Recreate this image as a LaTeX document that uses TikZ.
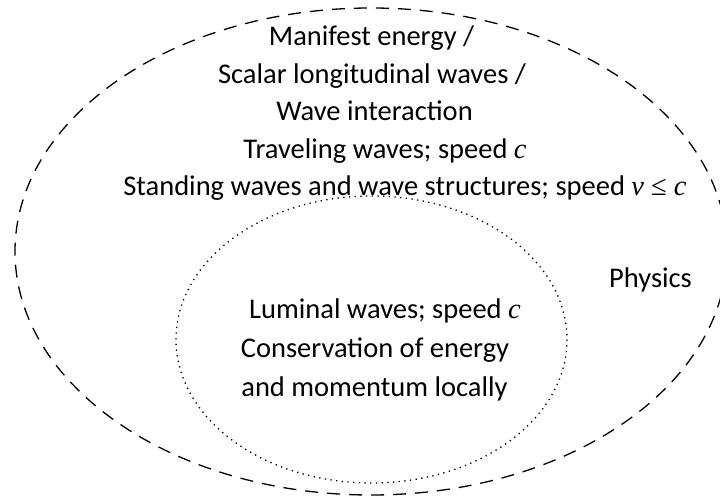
\documentclass[tikz,border=0pt]{standalone}
\usepackage{fontspec}
\setmainfont{Carlito}
\newfontfamily\mfont{Liberation Serif}
\newcommand\mv[1]{{\mfont\itshape #1}}
\begin{document}
\begin{tikzpicture}[x=1pt,y=-1pt,
  txt/.style={anchor=base, inner sep=0pt, font=\fontsize{28.5}{34}\selectfont},
  outerell/.style={line width=1.3pt, dash pattern=on 13pt off 9pt},
  innerell/.style={line width=1.3pt, dash pattern=on 1.3pt off 4.4pt}]
\useasboundingbox (0,0) rectangle (720,497);
\begin{scope}
\clip (0,0) rectangle (720,497);
\draw[outerell] (371,251.5) ellipse [x radius=356, y radius=243.5];
\end{scope}
\draw[innerell] (371.5,339.5) ellipse [x radius=195.5, y radius=143.5];
\node[txt] (l1) at (371.5,46) {Manifest energy /};
\node[txt] (l2) at (372,83.5) {Scalar longitudinal waves /};
\node[txt] (l3) at (374.5,121) {Wave interaction};
\node[txt] (l4) at (385,158.5) {Traveling waves; speed \mv{c}};
\node[txt] (l5) at (405,196) {Standing waves and wave structures; speed {\mfont\itshape v \upshape≤ \itshape c}};
\node[txt] (ph) at (650.5,287) {Physics};
\node[txt] (i1) at (385,318) {Luminal waves; speed \mv{c}};
\node[txt] (i2) at (375,357) {Conservation of energy};
\node[txt] (i3) at (374.5,396) {and momentum locally};
\end{tikzpicture}
\end{document}
